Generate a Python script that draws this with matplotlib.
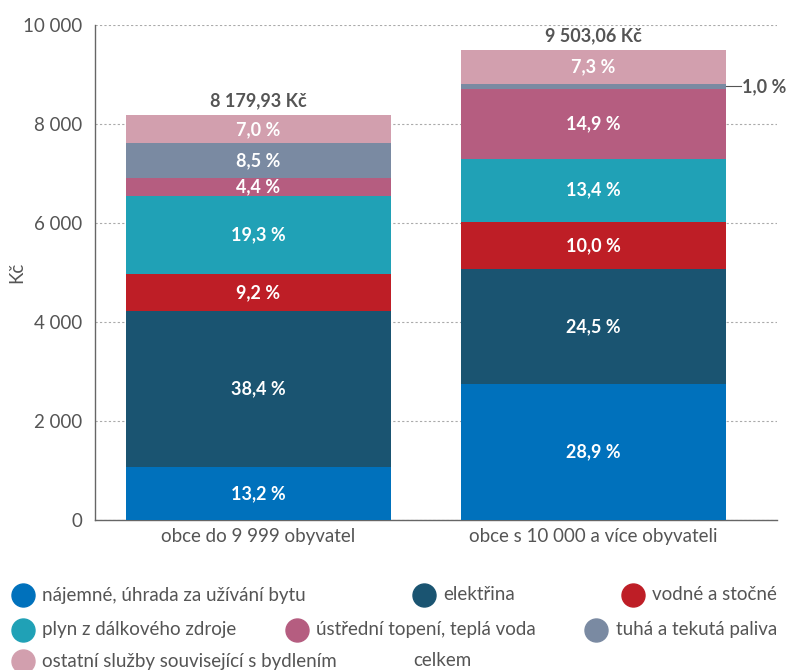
import numpy as np
import matplotlib.pyplot as plt
from matplotlib.lines import Line2D

plt.rcParams['font.family'] = ['Lato', 'DejaVu Sans']

categories = ["obce do 9 999 obyvatel", "obce s 10 000 a více obyvateli"]
totals = [8179.93, 9503.06]
total_labels = ["8 179,93 Kč", "9 503,06 Kč"]
items = ["nájemné, úhrada za užívání bytu", "elektřina", "vodné a stočné",
         "plyn z dálkového zdroje", "ústřední topení, teplá voda",
         "tuhá a tekutá paliva", "ostatní služby související s bydlením"]
shares_small = [13.2, 38.4, 9.2, 19.3, 4.4, 8.5, 7.0]
shares_large = [28.9, 24.5, 10.0, 13.4, 14.9, 1.0, 7.3]
colors = ["#0071BC", "#1A5471", "#BE1E26", "#20A1B6", "#B55D80",
          "#7A8AA2", "#D29FAE"]
text_col = "#555555"

W, H = 788, 670
fig = plt.figure(figsize=(W / 100, H / 100), dpi=100)
ax = fig.add_axes([95 / W, 1 - 520 / H, 682 / W, 495 / H])

x = np.arange(len(categories))
width = 0.79
shares = np.array([shares_small, shares_large])
values = shares / 100.0 * np.array(totals)[:, None]
bottom = np.zeros(len(categories))
for i in range(len(items)):
    ax.bar(x, values[:, i], width, bottom=bottom, color=colors[i], zorder=3)
    for j in range(len(categories)):
        if shares[j, i] >= 2:
            lab = ("%.1f %%" % shares[j, i]).replace(".", ",")
            ax.text(x[j], bottom[j] + values[j, i] / 2, lab, ha="center",
                    va="center", color="white", fontsize=13, fontweight="bold",
                    zorder=4)
    bottom += values[:, i]

for j in range(len(categories)):
    ax.text(x[j], totals[j] + 110, total_labels[j], ha="center", va="bottom",
            color=text_col, fontsize=13, fontweight="bold")

# small share label outside the bar
ymid = values[1, :5].sum() + values[1, 5] / 2
ax.plot([x[1] + width / 2, x[1] + width / 2 + 0.045], [ymid, ymid],
        color=text_col, lw=0.8, zorder=4)
ax.text(x[1] + width / 2 + 0.048, ymid, "1,0 %", ha="left", va="center",
        color=text_col, fontsize=13, fontweight="bold")

ax.set_xlim(-0.488, 1.548)
ax.set_ylim(0, 10000)
ax.set_yticks(np.arange(0, 10001, 2000))
ax.set_yticklabels(["0", "2 000", "4 000", "6 000", "8 000", "10 000"])
ax.set_xticks(x)
ax.set_xticklabels(categories)
ax.tick_params(axis="both", length=0, colors=text_col, labelsize=13.5)
ax.tick_params(axis="y", pad=9)
ax.tick_params(axis="x", pad=6)
ax.yaxis.grid(True, linestyle=(0, (2, 2)), color="#AAAAAA", lw=0.8, zorder=0)
for s in ["top", "right"]:
    ax.spines[s].set_visible(False)
for s in ["left", "bottom"]:
    ax.spines[s].set_color("#666666")
    ax.spines[s].set_linewidth(1.0)
ax.set_ylabel("Kč", color=text_col, fontsize=13.5)
ax.yaxis.set_label_coords(-0.103, 0.5)

# legend laid out in rows, items spread across the width
rows = [[0, 1, 2], [3, 4, 5], [6, None]]
row_y = [595, 630, 661]
left, right = 11, 777
dot_d, dot_gap, min_gap = 23, 8, 46
renderer = fig.canvas.get_renderer()
for r, row in enumerate(rows):
    texts = []
    for k in row:
        lab = items[k] if k is not None else "celkem"
        t = fig.text(0, 1 - row_y[r] / H, lab, ha="left", va="center",
                     color=text_col, fontsize=13.5)
        texts.append(t)
    widths = [dot_d + dot_gap + t.get_window_extent(renderer).width
              for t in texts]
    if r < 2:
        gap = (right - left - sum(widths)) / (len(row) - 1)
    else:
        gap = min_gap
    xpos = left
    for k, t, w in zip(row, texts, widths):
        if k is not None:
            fig.add_artist(Line2D([(xpos + dot_d / 2) / W],
                                  [1 - row_y[r] / H], marker="o", ls="",
                                  markersize=dot_d * 0.72,
                                  markerfacecolor=colors[k],
                                  markeredgecolor=colors[k],
                                  transform=fig.transFigure))
        t.set_x((xpos + dot_d + dot_gap) / W)
        xpos += w + gap

fig.savefig("out.png", dpi=100)
